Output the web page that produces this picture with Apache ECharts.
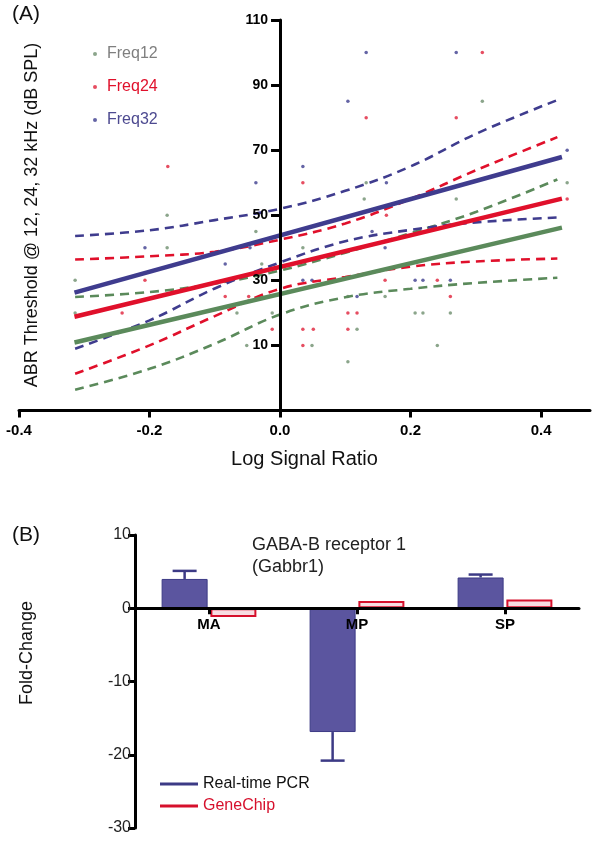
<!DOCTYPE html>
<html><head><meta charset="utf-8">
<script src="https://cdn.jsdelivr.net/npm/echarts@6/dist/echarts.min.js"></script>
<style>html,body{margin:0;padding:0;background:#fff}#c{width:600px;height:843px}</style>
</head><body><div id="c"></div><script>
// ---------- Panel A data ----------
const freqNames = ['Freq12', 'Freq24', 'Freq32'];
const freq12Points = [[0.31,85],[0.132,60],[0.44,60],[0.129,55],[0.27,55],[0.035,40],[0.104,25],[0.161,25],
  [0.207,20],[0.219,20],[0.261,20],[0.118,15],[0.049,10],[0.241,10],[0.104,5],
  [-0.173,50],[-0.173,40],[-0.037,45],[-0.028,35],[-0.314,30],[-0.314,20],[-0.066,20],[-0.012,20],[-0.051,10]];
const freq24Points = [[-0.172,65],[0.31,100],[0.132,80],[0.27,80],[0.035,60],[0.44,55],[0.163,50],
  [0.161,30],[0.241,30],[0.261,25],[0.104,20],[0.118,20],[0.051,15],[0.104,15],[0.035,10],
  [-0.207,30],[-0.242,20],[-0.084,25],[-0.048,25],[-0.012,15],[0.035,15]];
const freq32Points = [[-0.037,60],[0.132,100],[0.27,100],[0.104,85],[0.035,65],[0.163,60],[0.44,70],
  [0.141,45],[0.161,40],[0.035,30],[0.049,30],[0.207,30],[0.219,30],[0.261,30],[0.118,25],
  [-0.207,40],[-0.084,35],[-0.046,40]];
const fitX = [-0.315, 0.432];
const freq12Fit = [10.9, 46.2];
const freq24Fit = [18.8, 55.1];
const freq32Fit = [26.2, 67.9];
const bandX = [-0.314, -0.2, -0.1, 0, 0.1, 0.2, 0.3, 0.425];
const freq12Upper = [24.9, 26.4, 29, 33, 38.5, 44.5, 51, 61];
const freq12Lower = [-3.6, 2.8, 10.5, 19.5, 24.8, 27.4, 29.2, 30.8];
const freq24Upper = [36.4, 37.4, 38.8, 42.5, 47.5, 55, 63.8, 74];
const freq24Lower = [1.3, 10, 19, 27.4, 31, 34.2, 35.8, 36.7];
const freq32Upper = [43.6, 45.4, 48.5, 52, 57.5, 65, 75, 85.4];
const freq32Lower = [9, 17.7, 27.5, 35.5, 42, 45.5, 47.8, 49.3];
const xTicksA = [-0.4, -0.2, 0.0, 0.2, 0.4];
const yTicksA = [10, 30, 50, 70, 90, 110];

// ---------- Panel B data ----------
const regions = ['MA', 'MP', 'SP'];
const pcrValues = [4.0, -16.9, 4.2];
const pcrErrors = [1.1, 3.9, 0.4];
const geneChipValues = [-1.2, 1.0, 1.2];
const yTicksB = [-30, -20, -10, 0, 10];

// ---------- styles ----------
const FONT = '"Liberation Sans", Arial, Helvetica, sans-serif';
const lineColors = ['#5b8a5b', '#e0102b', '#3f3c8e'];
const dotColors = ['#6e8f6e', '#e0203a', '#3d3d8f'];
const legendTextColors = ['#7f7f7f', '#e0102b', '#4d4a90'];
const pcrColor = '#5b559f';
const pcrLine = '#3c3a85';
const chipBorder = '#d6102c';
const chipFill = '#f8dde2';
const BAR_W = 46;
const BAR_GAP = 0.06;
const GRID_A = { left: 19, right: 10, top: 20, height: 390.5 };
const GRID_B = { left: 135, top: 535, width: 444, height: 293 };

const pointsAll = [freq12Points, freq24Points, freq32Points];
const fitsAll = [freq12Fit, freq24Fit, freq32Fit];
const uppers = [freq12Upper, freq24Upper, freq32Upper];
const lowers = [freq12Lower, freq24Lower, freq32Lower];

const series = [];
freqNames.forEach((name, i) => {
  series.push({
    name: name, type: 'scatter', xAxisIndex: 0, yAxisIndex: 0,
    data: pointsAll[i], symbol: 'circle', symbolSize: 3.5,
    itemStyle: { color: dotColors[i] }, z: 3
  });
  [uppers[i], lowers[i]].forEach((arr, k) => {
    series.push({
      name: name + (k ? ' lower' : ' upper'), type: 'line', xAxisIndex: 0, yAxisIndex: 0,
      data: bandX.map((x, j) => [x, arr[j]]), smooth: 0.4, showSymbol: false, symbol: 'none',
      lineStyle: { color: lineColors[i], width: 2.6, type: [9, 6] }, z: 4
    });
  });
  series.push({
    name: name + ' fit', type: 'line', xAxisIndex: 0, yAxisIndex: 0,
    data: fitX.map((x, j) => [x, fitsAll[i][j]]), showSymbol: false, symbol: 'none',
    lineStyle: { color: lineColors[i], width: 4.5 }, z: 5
  });
});

series.push({
  name: 'Real-time PCR', type: 'bar', xAxisIndex: 1, yAxisIndex: 1,
  data: pcrValues, barWidth: BAR_W, barGap: (BAR_GAP * 100) + '%',
  itemStyle: { color: pcrColor, borderColor: pcrLine, borderWidth: 1 }
});
series.push({
  name: 'GeneChip', type: 'bar', xAxisIndex: 1, yAxisIndex: 1,
  data: geneChipValues, barWidth: BAR_W,
  itemStyle: { color: chipFill, borderColor: chipBorder, borderWidth: 2 }
});
series.push({
  name: 'PCR error', type: 'custom', xAxisIndex: 1, yAxisIndex: 1,
  data: pcrValues.map((v, i) => [i, v, pcrErrors[i]]),
  encode: { x: 0, y: 1 }, z: 3,
  renderItem: function (params, api) {
    const idx = api.value(0), v = api.value(1), e = api.value(2);
    const sign = v >= 0 ? 1 : -1;
    const off = -(BAR_W * (1 + BAR_GAP)) / 2;
    const p0 = api.coord([idx, v]);
    const p1 = api.coord([idx, v + sign * e]);
    const x = p0[0] + off;
    const st = { stroke: pcrLine, lineWidth: 2.5 };
    return { type: 'group', children: [
      { type: 'line', shape: { x1: x, y1: p0[1], x2: x, y2: p1[1] }, style: st },
      { type: 'line', shape: { x1: x - 12, y1: p1[1], x2: x + 12, y2: p1[1] }, style: st }
    ]};
  }
});

const option = {
  animation: false,
  backgroundColor: '#ffffff',
  textStyle: { fontFamily: FONT },
  grid: [
    Object.assign({ outerBoundsMode: 'none', containLabel: false }, GRID_A),
    Object.assign({ outerBoundsMode: 'none', containLabel: false }, GRID_B)
  ],
  xAxis: [
    { type: 'value', gridIndex: 0, min: -0.4, max: 0.475, interval: 0.2,
      axisLine: { show: true, onZero: false, lineStyle: { color: '#000', width: 3 } },
      axisTick: { show: true, length: 7, lineStyle: { color: '#000', width: 3 } },
      axisLabel: { show: true, showMaxLabel: false, margin: 13, color: '#000', fontSize: 15, fontWeight: 'bold', fontFamily: FONT,
        formatter: v => (xTicksA.some(t => Math.abs(t - v) < 1e-6) ? v.toFixed(1) : '') },
      splitLine: { show: false },
      name: 'Log Signal Ratio', nameLocation: 'middle', nameGap: 39,
      nameTextStyle: { fontSize: 20, color: '#111', fontFamily: FONT } },
    { type: 'category', gridIndex: 1, data: regions, offset: 0, z: 10,
      axisLine: { show: true, onZero: false, lineStyle: { color: '#000', width: 3 } },
      axisTick: { show: true, alignWithLabel: true, length: 6, lineStyle: { color: '#000', width: 3 } },
      axisLabel: { show: true, margin: 9, color: '#000', fontSize: 15, fontWeight: 'bold', fontFamily: FONT },
      splitLine: { show: false } }
  ],
  yAxis: [
    { type: 'value', gridIndex: 0, min: -10, max: 110, interval: 20, offset: 0, z: 10,
      axisLine: { show: true, onZero: false, lineStyle: { color: '#000', width: 3 } },
      axisTick: { show: true, length: 9, lineStyle: { color: '#000', width: 3 } },
      axisLabel: { show: true, showMinLabel: false, margin: 12, color: '#000', fontSize: 14, fontWeight: 'bold', fontFamily: FONT,
        formatter: v => (yTicksA.indexOf(Math.round(v)) >= 0 ? String(Math.round(v)) : '') },
      splitLine: { show: false } },
    { type: 'value', gridIndex: 1, min: -30, max: 10, interval: 10,
      axisLine: { show: true, onZero: false, lineStyle: { color: '#000', width: 3 } },
      axisTick: { show: true, length: 7, lineStyle: { color: '#000', width: 3 } },
      axisLabel: { show: true, margin: 4, color: '#222', fontSize: 16, fontFamily: FONT,
        formatter: v => (yTicksB.indexOf(Math.round(v)) >= 0 ? String(Math.round(v)) : '') },
      splitLine: { show: false } }
  ],
  legend: [
    { orient: 'vertical', left: 88, top: 41, itemGap: 17, itemWidth: 14, itemHeight: 4, icon: 'circle',
      textStyle: { fontSize: 16, fontFamily: FONT },
      data: freqNames.map((n, i) => ({ name: n, itemStyle: { color: dotColors[i] }, textStyle: { color: legendTextColors[i] } })) },
    { orient: 'vertical', left: 155, top: 771, itemGap: 6, itemWidth: 38, itemHeight: 3, icon: 'rect',
      textStyle: { fontSize: 16, fontFamily: FONT },
      data: [
        { name: 'Real-time PCR', itemStyle: { color: pcrLine, borderWidth: 0 }, textStyle: { color: '#111' } },
        { name: 'GeneChip', itemStyle: { color: chipBorder, borderWidth: 0 }, textStyle: { color: chipBorder } }
      ] }
  ],
  graphic: [
    { type: 'text', left: 12, top: 4, style: { text: '(A)', font: '21px ' + FONT, fill: '#111' } },
    { type: 'text', x: 32, y: 215, rotation: Math.PI / 2,
      style: { text: 'ABR Threshold @ 12, 24, 32 kHz (dB SPL)', font: '18px ' + FONT, fill: '#111', textAlign: 'center', textVerticalAlign: 'middle' } },
    { type: 'text', left: 12, top: 525, style: { text: '(B)', font: '21px ' + FONT, fill: '#111' } },
    { type: 'text', x: 27, y: 653, rotation: Math.PI / 2,
      style: { text: 'Fold-Change', font: '18px ' + FONT, fill: '#111', textAlign: 'center', textVerticalAlign: 'middle' } },
    { type: 'text', left: 252, top: 534, style: { text: 'GABA-B receptor 1\n(Gabbr1)', font: '18px ' + FONT, fill: '#222', lineHeight: 22 } }
  ],
  series: series
};
const chart = echarts.init(document.getElementById('c'), null, { renderer: 'canvas' });
chart.setOption(option);
// Move panel A's y axis to x = 0 and panel B's category axis to y = 0, using the library's own scales.
const zeroX = chart.convertToPixel({ xAxisIndex: 0 }, 0);
const zeroY = chart.convertToPixel({ yAxisIndex: 1 }, 0);
chart.setOption({
  yAxis: [{ offset: -(zeroX - GRID_A.left) }, {}],
  xAxis: [{}, { offset: -((GRID_B.top + GRID_B.height) - zeroY) }]
});
</script></body></html>
